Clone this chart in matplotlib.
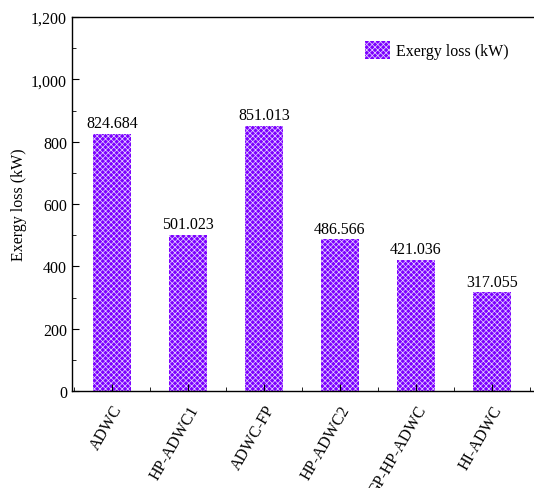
import matplotlib.pyplot as plt
from matplotlib.ticker import MultipleLocator, FuncFormatter

plt.rcParams['font.family'] = ['Liberation Serif', 'DejaVu Serif']
plt.rcParams['hatch.linewidth'] = 0.5

systems = ['ADWC', 'HP-ADWC1', 'ADWC-FP', 'HP-ADWC2', 'GP-HP-ADWC', 'HI-ADWC']
exergy_loss = [824.684, 501.023, 851.013, 486.566, 421.036, 317.055]

fs = 11.5

fig = plt.figure(figsize=(5.34, 4.89), dpi=100)
ax = fig.add_axes([72 / 534, 1 - 392 / 489, 464 / 534, 374 / 489])

x = list(range(len(systems)))
bars = ax.bar(x, exergy_loss, width=0.5, color='#7c00ff', edgecolor='#e8d8ff',
              linewidth=0, hatch='xxxxxx', label='Exergy loss (kW)')

for xi, v in zip(x, exergy_loss):
    ax.text(xi, v + 8, f'{v:.3f}', ha='center', va='bottom', fontsize=fs)

ax.set_xlim(-0.526, 5.58)
ax.set_ylim(0, 1200)
ax.set_xticks(x)
ax.set_xticklabels(systems, rotation=60, ha='right', va='top',
                   rotation_mode='anchor', fontsize=fs)
ax.xaxis.set_minor_locator(MultipleLocator(1, offset=0.5))
ax.yaxis.set_major_locator(MultipleLocator(200))
ax.yaxis.set_minor_locator(MultipleLocator(100))
ax.yaxis.set_major_formatter(FuncFormatter(lambda v, p: f'{int(v):,}'))
ax.tick_params(which='both', direction='in', labelsize=fs)
ax.tick_params(which='major', length=5)
ax.tick_params(which='minor', length=3)
ax.tick_params(axis='x', pad=8)
ax.set_ylabel('Exergy loss (kW)', fontsize=fs, labelpad=3)

ax.spines['right'].set_visible(False)
for s in ['left', 'bottom', 'top']:
    ax.spines[s].set_linewidth(1.0)

ax.legend(loc='upper right', bbox_to_anchor=(0.965, 0.965), frameon=False,
          fontsize=fs, handlelength=1.6, handleheight=1.3, handletextpad=0.35,
          borderaxespad=0.3)

fig.savefig('out.png', dpi=100)
